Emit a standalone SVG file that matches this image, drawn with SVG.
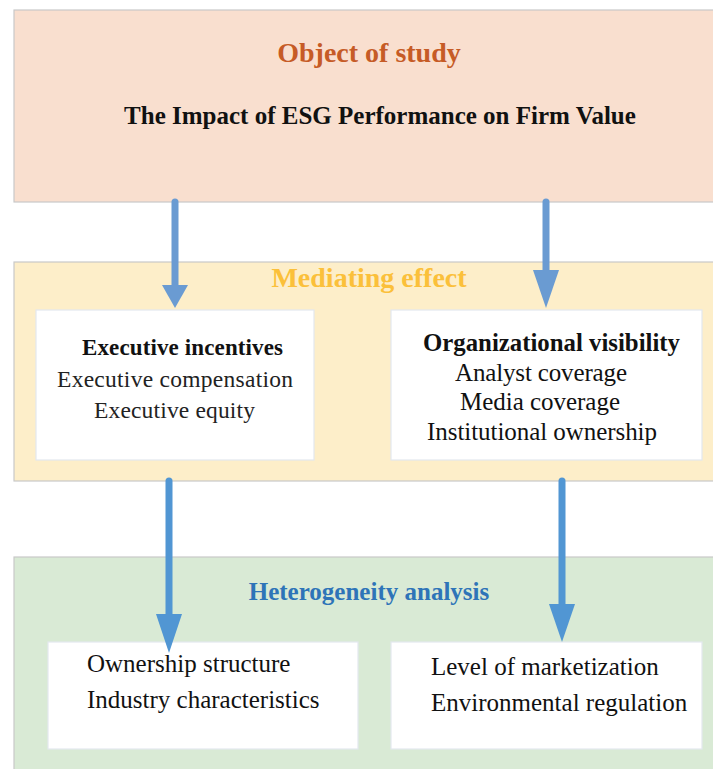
<svg xmlns="http://www.w3.org/2000/svg" width="713" height="769" viewBox="0 0 713 769">
<defs>
<style>
.panel{stroke:#c9c9c9;stroke-width:1.2}
.box{fill:#ffffff;stroke:#e3e8ef;stroke-width:1.2}
.t{font-family:"Liberation Serif","Times New Roman",serif;fill:#111111}
.b{font-weight:bold}
.shaft{stroke-width:7;stroke-linecap:round;fill:none}
</style>
</defs>
<rect width="713" height="769" fill="#ffffff"/>
<g id="object-of-study">
<rect class="panel" x="14" y="10" width="710" height="192" fill="#f9dfcf"/>
<text class="t b" x="369" y="62" font-size="28" text-anchor="middle" style="fill:#c65b26">Object of study</text>
<text class="t b" x="380" y="124" font-size="25" text-anchor="middle">The Impact of ESG Performance on Firm Value</text>
</g>
<g id="mediating-effect">
<rect class="panel" x="14" y="262" width="710" height="219" fill="#fdeec9"/>
<text class="t b" x="369" y="287" font-size="28" text-anchor="middle" style="fill:#fbc03a">Mediating effect</text>
</g>
<g id="executive-incentives">
<rect class="box" x="36" y="310" width="278" height="150"/>
<text class="t b" x="82" y="355" font-size="23" textLength="201" lengthAdjust="spacing">Executive incentives</text>
<text class="t" x="57" y="387" font-size="23.5" textLength="236" lengthAdjust="spacing" style="fill:#222">Executive compensation</text>
<text class="t" x="94" y="418" font-size="23.5" textLength="161" lengthAdjust="spacing" style="fill:#222">Executive equity</text>
</g>
<g id="organizational-visibility">
<rect class="box" x="391" y="310" width="311" height="150"/>
<text class="t b" x="423" y="351" font-size="25" textLength="257" lengthAdjust="spacingAndGlyphs">Organizational visibility</text>
<text class="t" x="455" y="381" font-size="25" textLength="172" lengthAdjust="spacing">Analyst coverage</text>
<text class="t" x="460" y="410" font-size="25" textLength="160" lengthAdjust="spacing">Media coverage</text>
<text class="t" x="427" y="440" font-size="25" textLength="230" lengthAdjust="spacing">Institutional ownership</text>
</g>
<g id="heterogeneity-analysis">
<rect class="panel" x="14" y="557" width="710" height="220" fill="#d9ead5"/>
<text class="t b" x="369" y="600" font-size="25" text-anchor="middle" style="fill:#2e74b8">Heterogeneity analysis</text>
</g>
<g id="ownership-industry">
<rect class="box" x="48" y="642" width="310" height="107"/>
<text class="t" x="87" y="672" font-size="25">Ownership structure</text>
<text class="t" x="87" y="708" font-size="25">Industry characteristics</text>
</g>
<g id="market-environment">
<rect class="box" x="391" y="642" width="311" height="107"/>
<text class="t" x="431" y="675" font-size="25">Level of marketization</text>
<text class="t" x="431" y="711" font-size="25">Environmental regulation</text>
</g>
<g id="connectors">
<g stroke="#6a9bd2" fill="#6a9bd2">
<line class="shaft" x1="175" y1="202" x2="175" y2="287"/>
<polygon points="162,285 188,285 175,308" stroke="none"/>
<line class="shaft" x1="546" y1="202" x2="546" y2="272"/>
<polygon points="533,270 559,270 546,308" stroke="none"/>
</g>
<g stroke="#5196d3" fill="#5196d3">
<line class="shaft" x1="169" y1="481" x2="169" y2="616"/>
<polygon points="156,614 182,614 169,653" stroke="none"/>
<line class="shaft" x1="562" y1="481" x2="562" y2="606"/>
<polygon points="549,604 575,604 562,642" stroke="none"/>
</g>
</g>
</svg>
